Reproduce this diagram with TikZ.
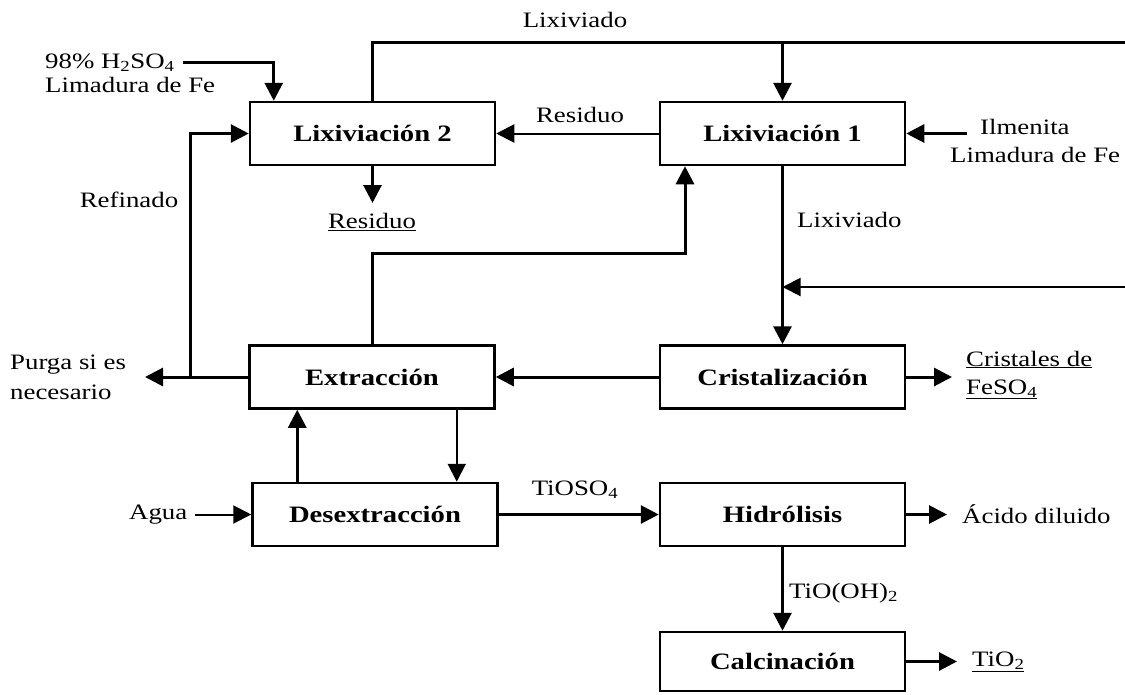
\documentclass[tikz,border=0pt]{standalone}
\usepackage{fontspec}
\setmainfont{Liberation Serif}[FakeStretch=1.22]
\usetikzlibrary{arrows.meta,calc}

\tikzset{
  box/.style={draw, line width=2.5pt, minimum width=245pt, minimum height=63pt,
    font=\fontsize{23.5}{27}\selectfont\bfseries},
  lbl/.style={font=\fontsize{22}{28}\selectfont, inner sep=0pt},
  flow/.style={line width=3pt, -{Triangle[length=18pt,width=18pt]}},
  thinflow/.style={line width=2pt, -{Triangle[length=18pt,width=18pt]}},
  pipe/.style={line width=3pt}
}

\begin{document}
\begin{tikzpicture}[x=1pt, y=-1pt]
  \useasboundingbox (0,0) rectangle (1125,694);

  \node[box] (lix2)   at (372.5,133.5) {Lixiviación 2};
  \node[box] (lix1)   at (782.5,133.5) {Lixiviación 1};
  \node[box] (extr)   at (372,377)     {Extracción};
  \node[box] (crist)  at (782.5,377)   {Cristalización};
  \node[box] (desext) at (375,514.5)   {Desextracción};
  \node[box] (hidr)   at (782.5,514.5) {Hidrólisis};
  \node[box, minimum height=59pt] (calc) at (782.5,661.5) {Calcinación};

  \node[lbl, anchor=west, align=left, font=\fontsize{22}{24}\selectfont] (acid) at (45,73)
    {98\% H\textsubscript{2}SO\textsubscript{4}\\Limadura de Fe};
  \node[lbl, anchor=west, align=left] (ilm) at (950,141) {\hspace{30pt}Ilmenita\\Limadura de Fe};
  \node[lbl] (lixtop) at (575,20) {Lixiviado};
  \node[lbl] (res1) at (580,115) {Residuo};
  \node[lbl] (res2) at (372,222) {\underline{Residuo}};
  \node[lbl, anchor=west] (lixv) at (797,220) {Lixiviado};
  \node[lbl] (refi) at (129,200) {Refinado};
  \node[lbl, anchor=west, align=left, font=\fontsize{22}{30}\selectfont] (purga) at (10,377)
    {Purga si es\\necesario};
  \node[lbl, anchor=west, align=left] (crfe) at (966,375)
    {\underline{Cristales de}\\\underline{FeSO\textsubscript{4}}};
  \node[lbl, anchor=west] (agua) at (129,515) {Agua};
  \node[lbl] (tioso) at (575,490) {TiOSO\textsubscript{4}};
  \node[lbl, anchor=west] (acdil) at (962,514) {Ácido diluido};
  \node[lbl, anchor=west] (tioh) at (789,593) {TiO(OH)\textsubscript{2}};
  \node[lbl, anchor=west] (tio2) at (972,662) {\underline{TiO\textsubscript{2}}};

  \coordinate (a1) at (183,62);
  \coordinate (e1) at (1125,42);
  \coordinate (e2) at (1125,287);
  \coordinate (il) at (967,133.5);
  \coordinate (r2) at (372.5,203);
  \coordinate (k1) at (685,253);
  \coordinate (j1) at (190,377);
  \coordinate (pu) at (145,377);
  \coordinate (ag) at (195,514.5);
  \coordinate (cr) at (952,377);
  \coordinate (ac) at (947,514.5);
  \coordinate (ti) at (957,661.5);

  \draw[flow] (a1) -| ([xshift=25pt]lix2.north west);
  \draw[pipe] (lix2.north) |- (e1);
  \draw[flow] (lix1.north |- e1) -- (lix1.north);
  \draw[thinflow] (lix1.west) -- (lix2.east);
  \draw[flow] (il) -- (lix1.east);
  \draw[flow] (lix2.south) -- (r2);
  \draw[flow] (lix1.south) -- (crist.north);
  \draw[thinflow] (e2) -- (lix1.south |- e2);
  \draw[flow] (extr.north) |- (k1) -- (k1 |- lix1.south);
  \draw[flow] (crist.west) -- (extr.east);
  \draw[flow] (extr.west) -- (pu);
  \draw[flow] (j1) |- (lix2.west);
  \draw[thinflow] ([xshift=-39pt]extr.south east) -- ([xshift=-39pt]extr.south east |- desext.north);
  \draw[flow] ([xshift=46pt]desext.north west) -- ([xshift=46pt]desext.north west |- extr.south);
  \draw[thinflow] (ag) -- (desext.west);
  \draw[flow] (desext.east) -- (hidr.west);
  \draw[flow] (crist.east) -- (cr);
  \draw[flow] (hidr.east) -- (ac);
  \draw[flow] (hidr.south) -- (calc.north);
  \draw[flow] (calc.east) -- (ti);
\end{tikzpicture}
\end{document}
